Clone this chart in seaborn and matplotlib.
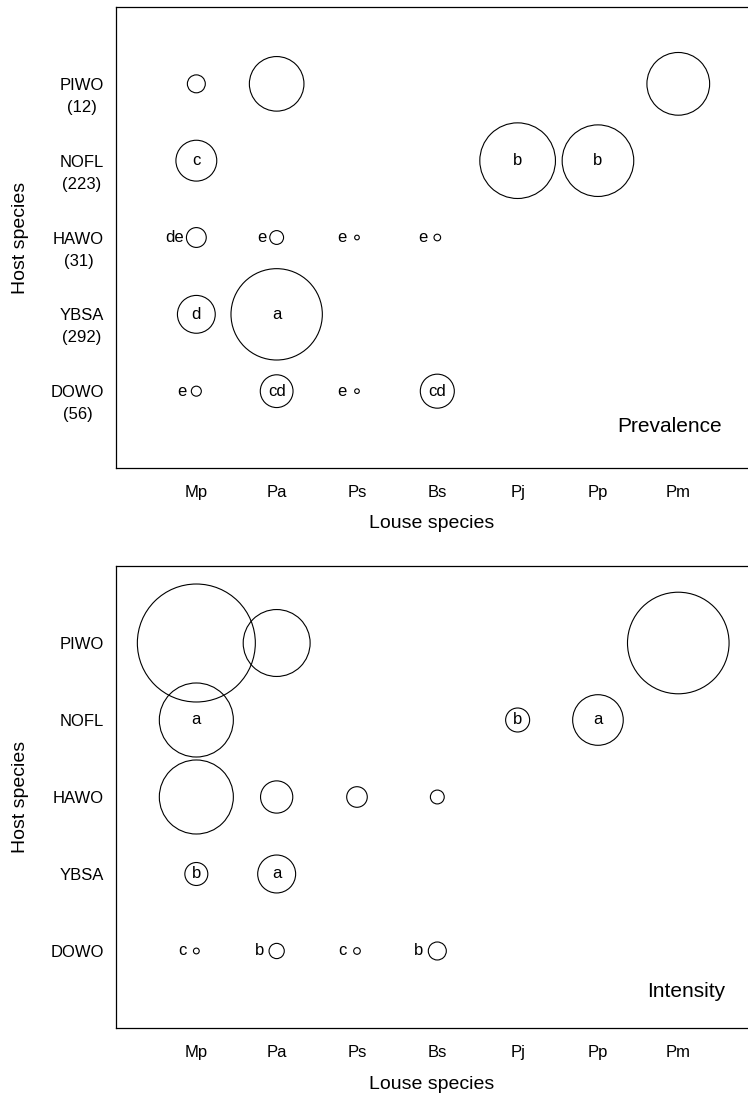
import matplotlib
matplotlib.use("Agg")
import matplotlib.pyplot as plt
import matplotlib.transforms as mtransforms
import numpy as np
import pandas as pd
import seaborn as sns

# categories
louse = ["Mp", "Pa", "Ps", "Bs", "Pj", "Pp", "Pm"]
hosts = ["DOWO", "YBSA", "HAWO", "NOFL", "PIWO"]   # bottom -> top
host_n = ["(56)", "(292)", "(31)", "(223)", "(12)"]

# prevalence (%), one list per host (None = not found)
prev_dowo = [0.84, 9.0, 0.18, 9.7, None, None, None]
prev_ybsa = [12.0, 70.0, None, None, None, None, None]
prev_hawo = [3.3, 1.6, 0.18, 0.37, None, None, None]
prev_nofl = [14.0, None, None, None, 48.0, 43.0, None]
prev_piwo = [2.7, 25.0, None, None, None, None, 33.0]

# mean intensity (lice per infested host), same layout
int_dowo = [0.084, 0.58, 0.11, 0.81, None, None, None]
int_ybsa = [1.32, 3.6, None, None, None, None, None]
int_hawo = [13.7, 2.6, 1.06, 0.48, None, None, None]
int_nofl = [13.7, None, None, None, 1.44, 6.4, None]
int_piwo = [34.8, 11.2, None, None, None, None, 25.8]

# significance letters
let_prev_dowo = ["e", "cd", "e", "cd", "", "", ""]
let_prev_ybsa = ["d", "a", "", "", "", "", ""]
let_prev_hawo = ["de", "e", "e", "e", "", "", ""]
let_prev_nofl = ["c", "", "", "", "b", "b", ""]
let_prev_piwo = ["", "", "", "", "", "", ""]

let_int_dowo = ["c", "b", "c", "b", "", "", ""]
let_int_ybsa = ["b", "a", "", "", "", "", ""]
let_int_hawo = ["", "", "", "", "", "", ""]
let_int_nofl = ["a", "", "", "", "b", "a", ""]
let_int_piwo = ["", "", "", "", "", "", ""]


def to_frame(rows, letters):
    recs = []
    for h, vals, lets in zip(hosts, rows, letters):
        for l, v, t in zip(louse, vals, lets):
            if v is not None:
                recs.append({"host": h, "louse": l, "value": v, "letter": t})
    df = pd.DataFrame(recs)
    df["xi"] = df["louse"].map({l: i + 1 for i, l in enumerate(louse)})
    df["yi"] = df["host"].map({h: i + 1 for i, h in enumerate(hosts)})
    return df


prev_df = to_frame([prev_dowo, prev_ybsa, prev_hawo, prev_nofl, prev_piwo],
                   [let_prev_dowo, let_prev_ybsa, let_prev_hawo, let_prev_nofl, let_prev_piwo])
int_df = to_frame([int_dowo, int_ybsa, int_hawo, int_nofl, int_piwo],
                  [let_int_dowo, let_int_ybsa, let_int_hawo, let_int_nofl, let_int_piwo])

sns.set_style("white")
plt.rcParams["font.family"] = ["Liberation Sans", "DejaVu Sans"]
plt.rcParams["text.color"] = "black"
plt.rcParams["axes.labelcolor"] = "black"

fig = plt.figure(figsize=(7.48, 10.95), dpi=100)
ax1 = fig.add_axes([0.1551, 0.5726, 0.8449, 0.4210])
ax2 = fig.add_axes([0.1551, 0.0612, 0.8449, 0.4219])


def panel(ax, df, vmax, smax, offs, name, tx, ty):
    sns.scatterplot(data=df, x="xi", y="yi", size="value", sizes=(0, smax),
                    size_norm=(0, vmax), facecolor="none", edgecolor="black",
                    linewidth=0.8, legend=False, ax=ax, clip_on=False, zorder=3)
    # letters: inside the larger circles, left of the small ones
    for _, r in df.iterrows():
        if not r["letter"]:
            continue
        rad_px = np.sqrt(smax * r["value"] / vmax) / 2 / 0.72
        if rad_px > 10.8:
            ax.annotate(r["letter"], (r["xi"], r["yi"]), ha="center", va="center",
                        fontsize=12, color="black", zorder=4)
        else:
            off = max(rad_px + offs, 10) * 0.72
            ax.annotate(r["letter"], (r["xi"], r["yi"]), xytext=(-off, 0),
                        textcoords="offset points", ha="right", va="center",
                        fontsize=12, color="black", zorder=4)
    ax.set_xlim(0, 7.868)
    ax.set_ylim(0, 6)
    ax.set_xticks(range(1, 8))
    ax.set_xticklabels(louse, fontsize=12)
    ax.set_yticks(range(1, 6))
    ax.set_yticklabels(hosts, fontsize=12)
    ax.tick_params(axis="both", direction="out", length=5.5, width=0.9,
                   color="black", labelcolor="black")
    ax.tick_params(axis="x", pad=6.5)
    ax.tick_params(axis="y", pad=3)
    for s in ["left", "bottom", "top"]:
        ax.spines[s].set_color("black")
        ax.spines[s].set_linewidth(0.9)
    ax.spines["right"].set_visible(False)
    ax.set_xlabel("Louse species", fontsize=14, color="black")
    ax.set_ylabel("Host species", fontsize=14, color="black")
    ax.xaxis.set_label_coords(0.5, -0.103)
    ax.yaxis.set_label_coords(-0.137, 0.5)
    ax.text(tx, ty, name, transform=ax.transAxes, ha="right", va="baseline",
            fontsize=15, color="black")


panel(ax1, prev_df, 100, 6180, 3, "Prevalence", 0.959, 0.078)
panel(ax2, int_df, 40, 8294, 5, "Intensity", 0.9636, 0.067)

# sample sizes under the host names of the top panel
fig.canvas.draw()
for lbl, n in zip(ax1.get_yticklabels(), host_n):
    bb = lbl.get_window_extent()
    cx = (bb.x0 + bb.x1) / 2
    cy = (bb.y0 + bb.y1) / 2 - 22
    fig.text(cx, cy, n, transform=mtransforms.IdentityTransform(),
             ha="center", va="center", fontsize=12, color="black")

plt.savefig("out.png", dpi=100)
